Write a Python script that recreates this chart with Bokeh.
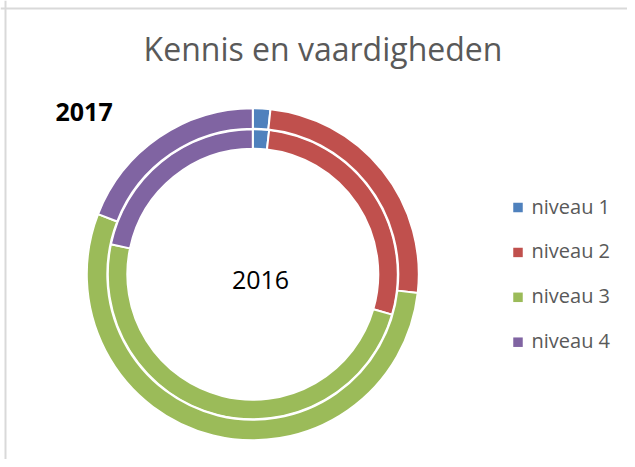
import numpy as np
from bokeh.plotting import figure
from bokeh.models import Range1d, ColumnDataSource, Span
from bokeh.core.properties import value
from bokeh.embed import file_html
from bokeh.resources import INLINE

# ---- data ----
title_text = "Kennis en vaardigheden"
categories = ["niveau 1", "niveau 2", "niveau 3", "niveau 4"]
values_2016 = [1.8, 27.7, 48.8, 21.7]   # inner ring
values_2017 = [1.7, 25.1, 54.1, 19.1]   # outer ring
colors = ["#4F81BD", "#C0504D", "#9BBB59", "#8064A2"]
label_inner = "2016"
label_outer = "2017"

# ---- layout (pixels, top-left origin) ----
W, H = 627, 459
def sx(x):
    return x
def sy(y):
    return H - y

# the text baseline renders a little low; lift it by a fraction of the font size
def base(y, size):
    return sy(y - 0.4 * size)

cx, cy = sx(252.3), sy(273.7)
inner_r = (125.5, 145.0)
outer_r = (145.5, 166.0)
FONT = "Open Sans"

p = figure(width=W, height=H, x_range=Range1d(0, W), y_range=Range1d(0, H),
           min_border=0, toolbar_location=None, output_backend="svg",
           x_axis_type=None, y_axis_type=None, outline_line_color=None,
           background_fill_color="white", border_fill_color="white")
p.grid.visible = False

def ring_source(vals):
    v = np.array(vals, dtype=float)
    frac = v / v.sum()
    cum_end = np.cumsum(frac) * 2 * np.pi
    cum_start = cum_end - frac * 2 * np.pi
    return ColumnDataSource(dict(
        start=list(np.pi / 2 - cum_end),
        end=list(np.pi / 2 - cum_start),
        color=colors,
        cat=categories,
    ))

for vals, (r0, r1) in ((values_2016, inner_r), (values_2017, outer_r)):
    src = ring_source(vals)
    p.annular_wedge(x=cx, y=cy, inner_radius=r0, outer_radius=r1,
                    start_angle="start", end_angle="end", direction="anticlock",
                    fill_color="color", line_color="white", line_width=2,
                    source=src)

# border lines (top and left)
p.add_layout(Span(location=sy(8), dimension="width", line_color="#d9d9d9", line_width=2))
p.add_layout(Span(location=sx(5), dimension="height", line_color="#d9d9d9", line_width=2))

# title
p.text(x=[sx(322.5)], y=[base(61, 32)], text=[title_text], text_font=value(FONT),
       text_font_size="32px", text_color="#595959", text_align="center",
       text_baseline="alphabetic")

# ring labels
p.text(x=[sx(55)], y=[base(121, 25)], text=[label_outer], text_font=value(FONT),
       text_font_size="25px", text_font_style="bold", text_color="black",
       text_align="left", text_baseline="alphabetic")
p.text(x=[sx(260)], y=[base(289.3, 25)], text=[label_inner], text_font=value(FONT),
       text_font_size="25px", text_color="black",
       text_align="center", text_baseline="alphabetic")

# legend
leg_x = sx(517.5)
leg_tx = sx(531)
leg_y0 = 207.0
leg_step = 44.9
rows = [leg_y0 + i * leg_step for i in range(len(categories))]
p.rect(x=[leg_x] * len(categories), y=[sy(r) for r in rows], width=9.5, height=9.5,
       fill_color=colors, line_color=None)
p.text(x=[leg_tx] * len(categories), y=[base(r + 6.5, 20) for r in rows], text=categories,
       text_font=value(FONT), text_font_size="20px", text_color="#595959",
       text_align="left", text_baseline="alphabetic")

open("out.html", "w").write(file_html(p, INLINE))
